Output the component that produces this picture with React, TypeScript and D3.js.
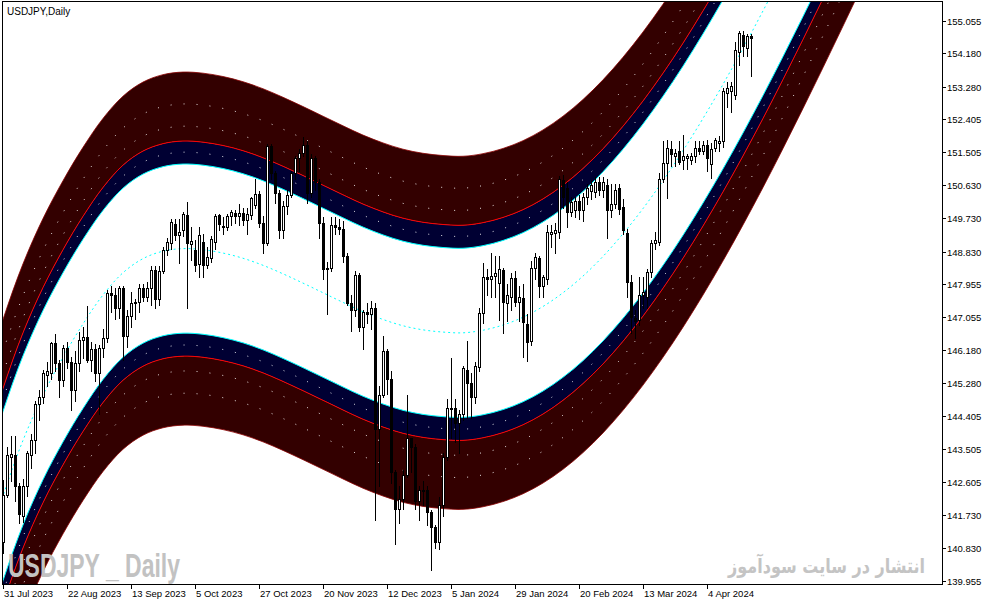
import React from 'react';
import * as d3 from 'd3';

// daily bars, bar 0 = 31 Jul 2023 ; [open, high, low, close]
const candles: [number, number, number, number][] = [
  [141.00, 142.68, 140.70, 142.27], [142.27, 143.55, 142.20, 143.35], [143.30, 143.85, 142.65, 143.38],
  [143.35, 143.85, 142.10, 142.50], [142.50, 142.60, 141.50, 141.75], [141.70, 142.70, 141.55, 142.50],
  [142.50, 143.45, 142.25, 143.40], [143.35, 143.90, 143.00, 143.75], [143.75, 144.80, 143.40, 144.72],
  [144.72, 145.10, 144.30, 144.92], [144.92, 145.65, 144.75, 145.55], [145.50, 145.85, 145.20, 145.60],
  [145.55, 146.40, 145.40, 146.36], [146.36, 146.60, 145.60, 145.82], [145.82, 145.90, 144.90, 145.37],
  [145.37, 146.30, 145.20, 146.22], [146.22, 146.40, 145.70, 145.86], [145.86, 146.00, 144.55, 145.10],
  [145.10, 146.15, 144.80, 145.82], [145.82, 146.65, 145.60, 146.45], [146.45, 146.80, 145.95, 146.52],
  [146.52, 147.37, 145.85, 145.90], [145.90, 146.40, 145.60, 146.20], [146.20, 146.35, 145.35, 145.55],
  [145.55, 146.30, 144.44, 146.22], [146.22, 146.75, 146.00, 146.50], [146.50, 147.80, 146.40, 147.70],
  [147.70, 147.90, 147.20, 147.65], [147.65, 147.85, 147.00, 147.30], [147.30, 147.90, 147.05, 147.85],
  [147.85, 147.90, 145.90, 146.55], [146.55, 147.25, 146.25, 147.10], [147.10, 147.75, 146.80, 147.45],
  [147.45, 147.55, 147.00, 147.48], [147.48, 147.95, 147.20, 147.85], [147.85, 147.95, 147.50, 147.60],
  [147.60, 148.00, 147.50, 147.85], [147.85, 148.45, 147.40, 148.33], [148.33, 148.45, 147.30, 147.55],
  [147.55, 148.45, 147.40, 148.30], [148.30, 148.95, 148.25, 148.87], [148.87, 149.20, 148.75, 149.10],
  [149.05, 149.70, 148.90, 149.62], [149.58, 149.70, 149.15, 149.28], [149.28, 149.70, 148.52, 149.37],
  [149.40, 149.90, 149.25, 149.85], [149.82, 150.17, 147.30, 149.05], [149.03, 149.50, 148.60, 149.11],
  [148.87, 149.15, 148.30, 148.47], [148.50, 149.50, 148.15, 149.28], [149.10, 149.30, 148.15, 148.47],
  [148.47, 148.95, 148.40, 148.69], [148.65, 149.25, 148.55, 149.17], [149.10, 149.85, 148.90, 149.80],
  [149.82, 149.85, 149.40, 149.57], [149.52, 149.75, 149.30, 149.50], [149.50, 149.85, 149.40, 149.80],
  [149.80, 149.95, 149.55, 149.90], [149.87, 149.95, 149.60, 149.80], [149.78, 150.10, 149.55, 149.87],
  [149.88, 150.00, 149.55, 149.68], [149.68, 150.00, 149.30, 149.85], [149.82, 150.30, 149.70, 150.27],
  [150.08, 150.78, 150.00, 150.38], [150.38, 150.45, 149.50, 149.61], [149.61, 149.80, 148.80, 149.05],
  [149.05, 151.72, 149.00, 151.68], [151.68, 151.72, 150.80, 150.95], [150.95, 151.00, 150.15, 150.40],
  [150.40, 150.50, 149.20, 149.40], [149.40, 150.20, 149.20, 150.05], [150.05, 150.50, 149.85, 150.35],
  [150.35, 151.00, 150.30, 150.95], [150.95, 151.40, 150.80, 151.35], [151.35, 151.60, 151.00, 151.50],
  [151.50, 151.92, 151.40, 151.70], [151.70, 151.80, 150.15, 150.40], [150.40, 151.45, 150.30, 151.35],
  [151.35, 151.40, 150.50, 150.70], [150.70, 150.80, 149.20, 149.60], [149.60, 149.75, 148.10, 148.35],
  [148.35, 148.55, 147.15, 148.40], [148.40, 149.75, 148.30, 149.55], [149.55, 149.75, 149.30, 149.50],
  [149.50, 149.70, 149.30, 149.45], [149.45, 149.65, 148.55, 148.70], [148.70, 148.80, 147.40, 147.45],
  [147.45, 147.65, 146.70, 147.25], [147.25, 148.30, 147.10, 148.20], [148.20, 148.25, 146.70, 146.80],
  [146.80, 147.25, 146.20, 147.20], [147.20, 147.45, 146.90, 147.15], [147.15, 147.50, 146.75, 147.30],
  [147.30, 147.45, 141.60, 144.05], [144.05, 145.20, 142.50, 144.95], [144.95, 146.55, 144.90, 146.15],
  [146.15, 146.20, 145.00, 145.40], [145.40, 145.60, 142.60, 142.90], [142.90, 142.95, 140.95, 141.90],
  [141.90, 142.50, 141.50, 142.15], [142.15, 142.95, 141.90, 142.80], [142.80, 144.95, 142.75, 143.80],
  [143.80, 143.80, 142.90, 143.55], [143.55, 143.65, 141.90, 142.10], [142.10, 142.50, 141.60, 142.40],
  [142.40, 142.65, 142.00, 142.40], [142.40, 142.50, 141.45, 141.80], [141.80, 141.85, 140.25, 141.40],
  [141.40, 141.45, 140.85, 141.00], [141.00, 142.20, 140.80, 142.00], [142.00, 143.40, 141.70, 143.30],
  [143.30, 144.85, 143.20, 144.60], [144.60, 145.96, 143.80, 144.62], [144.62, 144.85, 143.70, 144.20],
  [144.20, 144.55, 143.40, 144.45], [144.45, 145.75, 144.30, 145.70], [145.65, 146.42, 144.35, 145.28],
  [145.28, 145.55, 144.34, 144.90], [144.90, 145.85, 144.75, 145.75], [145.72, 147.30, 145.60, 147.17],
  [147.17, 148.52, 146.90, 148.15], [148.15, 148.35, 147.65, 148.10], [148.10, 148.79, 147.60, 148.17],
  [148.17, 148.70, 147.60, 148.25], [147.98, 148.70, 146.98, 148.36], [148.33, 148.40, 146.63, 147.48],
  [147.45, 147.95, 146.95, 147.66], [147.60, 148.25, 147.25, 148.11], [148.11, 148.30, 147.35, 147.48],
  [147.47, 147.90, 146.95, 147.60], [147.58, 147.95, 146.00, 146.94], [146.87, 147.15, 145.88, 146.40],
  [146.43, 148.58, 146.30, 148.39], [148.39, 148.80, 148.10, 148.69], [148.66, 148.70, 147.61, 147.90],
  [147.90, 148.20, 147.60, 148.15], [148.08, 149.55, 147.95, 149.35], [149.30, 149.55, 148.95, 149.35],
  [149.33, 149.60, 148.80, 149.40], [149.35, 150.88, 149.20, 150.80], [150.76, 150.90, 150.00, 150.31],
  [150.55, 150.70, 149.50, 149.90], [149.90, 150.30, 149.80, 150.17], [149.95, 150.30, 149.75, 150.20],
  [150.20, 150.35, 149.70, 149.95], [149.95, 150.40, 149.65, 150.30], [150.31, 150.65, 150.10, 150.55],
  [150.45, 150.75, 150.25, 150.62], [150.44, 150.85, 150.30, 150.71], [150.70, 150.85, 150.35, 150.50],
  [150.50, 150.85, 150.30, 150.71], [150.63, 150.80, 149.20, 149.95], [149.95, 150.65, 149.75, 150.12],
  [150.10, 150.65, 150.00, 150.50], [150.55, 150.65, 149.85, 149.98], [150.04, 150.25, 149.30, 149.41],
  [149.32, 149.45, 147.60, 148.02], [148.02, 148.20, 146.63, 147.07], [147.05, 147.25, 146.50, 146.95],
  [146.98, 148.15, 146.85, 147.66], [147.66, 148.15, 147.30, 147.75], [147.61, 148.35, 147.30, 148.29],
  [148.29, 149.15, 148.15, 149.05], [149.05, 149.35, 148.90, 149.15], [149.10, 150.95, 149.00, 150.78],
  [150.78, 151.82, 150.70, 151.21], [151.21, 151.85, 150.27, 151.62], [151.60, 151.80, 151.15, 151.45],
  [151.40, 151.60, 151.15, 151.50], [151.55, 151.80, 151.20, 151.25], [151.30, 151.97, 151.05, 151.42],
  [151.35, 151.45, 151.05, 151.42], [151.30, 151.50, 151.20, 151.40], [151.40, 151.80, 151.25, 151.62],
  [151.62, 151.80, 151.45, 151.55], [151.55, 151.80, 151.45, 151.70], [151.70, 151.85, 151.00, 151.35],
  [151.20, 151.75, 150.81, 151.60], [151.61, 151.90, 151.55, 151.84], [151.75, 151.95, 151.55, 151.80],
  [151.80, 153.24, 151.65, 153.15], [153.10, 153.41, 152.74, 153.23], [153.17, 153.40, 152.58, 153.30],
  [153.05, 154.49, 152.95, 154.26], [154.22, 154.78, 153.86, 154.72], [154.66, 154.79, 154.10, 154.37],
  [154.33, 154.70, 154.10, 154.64], [154.65, 154.70, 153.56, 154.60],
];

// regression curve (bar index -> price)
const centerBars = [
  -5, 0, 5, 10, 15, 20, 25, 30, 35, 40, 45, 50, 55, 60, 65, 70, 75, 80, 85, 90, 95, 100, 105,
  110, 115, 120, 125, 130, 135, 140, 145, 150, 155, 160, 165, 170, 175, 180, 185, 190, 195, 200,
  205, 210, 215, 220,
];
const centerPrices = [
  140.49, 142.24, 143.74, 144.96, 145.98, 146.88, 147.66, 148.26, 148.64, 148.84, 148.91, 148.88,
  148.79, 148.65, 148.46, 148.23, 147.98, 147.72, 147.46, 147.21, 147.00, 146.83, 146.72, 146.66,
  146.64, 146.71, 146.85, 147.06, 147.35, 147.72, 148.17, 148.70, 149.31, 149.99, 150.74, 151.55,
  152.42, 153.34, 154.31, 155.32, 156.37, 157.45, 158.55, 159.67, 160.80, 161.94,
];

// channel distances from the curve, in price
const bandLevels = [2.28, 2.9, 4.76];
const dotLevels = [2.6, 3.3, 3.9];

const priceTicks = [
  '155.055', '154.180', '153.280', '152.405', '151.505', '150.630', '149.730', '148.830', '147.955',
  '147.055', '146.180', '145.280', '144.405', '143.505', '142.605', '141.730', '140.830', '139.955',
];
const dateTickBars = [0, 16, 32, 48, 64, 80, 96, 112, 128, 144, 160, 176];
const dateTickLabels = [
  '31 Jul 2023', '22 Aug 2023', '13 Sep 2023', '5 Oct 2023', '27 Oct 2023', '20 Nov 2023',
  '12 Dec 2023', '5 Jan 2024', '29 Jan 2024', '20 Feb 2024', '13 Mar 2024', '4 Apr 2024',
];

const plot = { left: 2, top: 1, right: 942, bottom: 584 };

export default function App() {
  const x = d3.scaleLinear().domain([0, 100]).range([3, 403]);
  const y = d3.scaleLinear().domain([140.83, 155.055]).range([548.3, 20.7]);

  const pts: [number, number][] = centerBars.map((b, k) => [b, centerPrices[k]]);
  const curveAt = (off: number) =>
    d3.line<[number, number]>()
      .x(d => x(d[0]))
      .y(d => y(d[1] + off))
      .curve(d3.curveCatmullRom)(pts) || '';
  const bandAt = (a: number, b: number) =>
    d3.area<[number, number]>()
      .x(d => x(d[0]))
      .y0(d => y(d[1] + a))
      .y1(d => y(d[1] + b))
      .curve(d3.curveCatmullRom)(pts) || '';

  const [inner, mid, outer] = bandLevels;
  const font = '"Liberation Sans", Arial, sans-serif';

  return (
    <div>
      <style>{'body{margin:0;background:#fff}'}</style>
      <svg width={987} height={605} style={{ display: 'block' }}>
        <defs>
          <clipPath id="plotClip">
            <rect x={plot.left + 1} y={plot.top + 1} width={plot.right - plot.left - 1} height={plot.bottom - plot.top - 1} />
          </clipPath>
        </defs>
        <rect x={0} y={0} width={987} height={605} fill="#fff" />

        <g clipPath="url(#plotClip)">
          {[1, -1].map(s => (
            <g key={s}>
              <path d={bandAt(s * mid, s * outer)} fill="#330000" />
              <path d={bandAt(s * inner, s * mid)} fill="#000033" />
              {dotLevels.map(o => (
                <path key={o} d={curveAt(s * o)} fill="none" stroke="#fff" strokeOpacity={0.85}
                  strokeWidth={1} strokeDasharray="1 12" />
              ))}
              <path d={curveAt(s * outer)} fill="none" stroke="#8a0000" strokeWidth={0.8} />
              <path d={curveAt(s * mid)} fill="none" stroke="#ff0000" strokeWidth={1} />
              <path d={curveAt(s * inner)} fill="none" stroke="#00ffff" strokeWidth={1} />
            </g>
          ))}
          <path d={curveAt(0)} fill="none" stroke="#00ffff" strokeWidth={1} strokeDasharray="2 3" />

          {candles.map(([o, h, l, c], i) => {
            const cx = Math.round(x(i));
            const top = Math.round(y(Math.max(o, c)));
            const bot = Math.round(y(Math.min(o, c)));
            const bull = c >= o;
            return (
              <g key={i}>
                <line x1={cx + 0.5} x2={cx + 0.5} y1={Math.round(y(h))} y2={Math.round(y(l)) + 1} stroke="#000" strokeWidth={1} />
                <rect x={cx - 0.5} y={top + 0.5} width={2} height={Math.max(bot - top, 1)}
                  fill={bull ? '#fff' : '#000'} stroke="#000" strokeWidth={1} />
              </g>
            );
          })}

          <text x={8} y={577} fontFamily='"Liberation Sans Narrow", "Liberation Sans", sans-serif' fontWeight="bold"
            fontSize={33} fill="#c2c2c2" textLength={172} lengthAdjust="spacingAndGlyphs">USDJPY _ Daily</text>
        </g>

        <g transform="translate(925,573) scale(0.8,1)">
          <text x={0} y={0} textAnchor="end" fontFamily='"DejaVu Sans", sans-serif' fontWeight="bold"
            fontSize={20} fill="#c4c4c4">انتشار در سایت سودآموز</text>
        </g>

        <text x={7} y={15} fontFamily={font} fontSize={10} fill="#000">USDJPY,Daily</text>

        <rect x={plot.left + 0.5} y={plot.top + 0.5} width={plot.right - plot.left} height={plot.bottom - plot.top}
          fill="none" stroke="#000" strokeWidth={1} />

        {priceTicks.map(t => {
          const ty = Math.min(Math.round(y(+t)), plot.bottom - 1);
          return (
            <g key={t}>
              <line x1={plot.right} x2={plot.right + 4} y1={ty + 0.5} y2={ty + 0.5} stroke="#000" />
              <text x={plot.right + 5} y={ty + 4} fontFamily={font} fontSize={9.5} fill="#000">{t}</text>
            </g>
          );
        })}

        {dateTickBars.map((b, k) => {
          const tx = Math.round(x(b));
          return (
            <g key={b}>
              <line x1={tx + 0.5} x2={tx + 0.5} y1={plot.bottom} y2={plot.bottom + 5} stroke="#000" />
              <text x={tx + 1} y={597} fontFamily={font} fontSize={9.5} fill="#000">{dateTickLabels[k]}</text>
            </g>
          );
        })}
      </svg>
    </div>
  );
}
